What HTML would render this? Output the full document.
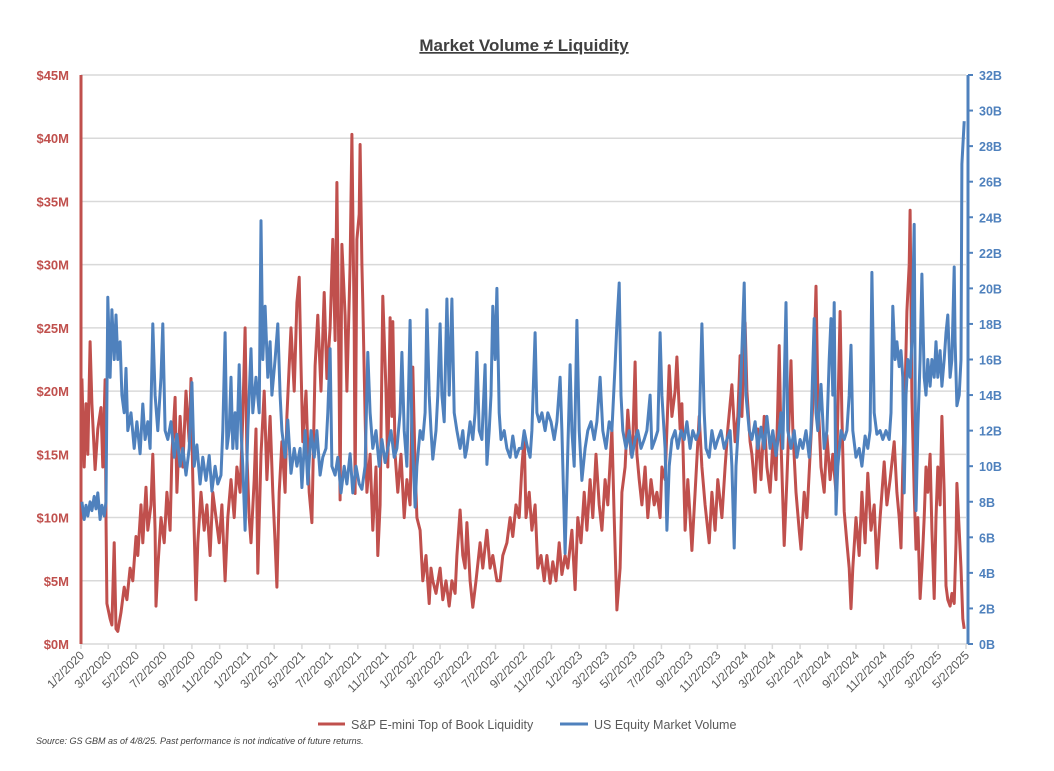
<!DOCTYPE html>
<html><head><meta charset="utf-8"><style>
html,body{margin:0;padding:0;background:#fff;}
svg{display:block;font-family:"Liberation Sans",sans-serif;}
</style></head><body>
<svg id="chart" width="1054" height="771" viewBox="0 0 1054 771" xmlns="http://www.w3.org/2000/svg">
<text x="524" y="51" text-anchor="middle" font-size="17" font-weight="bold" fill="#404040" text-decoration="underline">Market Volume ≠ Liquidity</text>
<g id="grid"></g>
<g id="xaxis"></g>
<g id="yleft"></g>
<g id="yright"></g>
<g id="series"></g>
<g>
<line x1="318" y1="724" x2="345" y2="724" stroke="#c0504d" stroke-width="3"/>
<text x="351" y="729" font-size="12.5" fill="#595959">S&amp;P E-mini Top of Book Liquidity</text>
<line x1="560" y1="724" x2="588" y2="724" stroke="#4f81bd" stroke-width="3"/>
<text x="594" y="729" font-size="12.5" fill="#595959">US Equity Market Volume</text>
</g>
<text x="36" y="744" font-size="9" font-style="italic" fill="#404040">Source: GS GBM as of 4/8/25. Past performance is not indicative of future returns.</text>
</svg>
<script>
const leftTicks = [0,5,10,15,20,25,30,35,40,45];
const rightTicks = [0,2,4,6,8,10,12,14,16,18,20,22,24,26,28,30,32];
const tickMonthsSpan = 32;
const redDays = [2,7,11,15,20,24,31,37,44,48,53,55,57,64,68,73,77,81,88,95,101,108,114,121,125,132,136,143,147,154,158,163,165,169,176,183,189,196,200,207,211,218,224,231,238,242,246,253,257,264,271,277,284,290,297,304,310,317,323,330,337,343,350,356,361,365,370,374,381,385,389,396,403,409,416,422,427,431,436,442,449,453,458,462,469,475,480,484,488,495,502,508,515,521,528,535,541,548,554,559,563,568,570,574,581,585,592,596,601,603,607,612,614,618,620,625,629,636,642,649,653,658,664,671,675,680,684,686,691,697,704,711,717,724,730,735,739,746,752,759,766,770,774,781,790,796,803,810,816,823,827,834,840,845,849,856,862,869,878,884,893,900,906,915,922,928,937,944,950,957,964,970,975,979,986,992,999,1005,1012,1019,1025,1032,1038,1045,1052,1058,1065,1071,1080,1087,1093,1100,1107,1113,1120,1126,1133,1140,1146,1153,1159,1168,1173,1179,1186,1190,1197,1203,1210,1214,1219,1223,1228,1234,1241,1247,1254,1261,1267,1274,1278,1285,1294,1300,1307,1311,1318,1322,1329,1335,1340,1344,1351,1360,1366,1373,1382,1388,1395,1401,1410,1417,1423,1432,1439,1445,1450,1454,1461,1465,1472,1476,1483,1489,1496,1503,1509,1516,1522,1529,1536,1540,1547,1553,1558,1562,1566,1573,1580,1584,1591,1597,1604,1610,1617,1621,1628,1635,1641,1648,1654,1661,1665,1670,1674,1679,1685,1690,1694,1698,1705,1712,1718,1725,1731,1738,1745,1751,1758,1767,1773,1780,1789,1795,1800,1804,1808,1813,1817,1822,1824,1828,1833,1837,1841,1846,1850,1855,1859,1863,1868,1872,1877,1881,1885,1890,1894,1899,1903,1907,1912,1916,1921,1925,1927,1932,1936,1940,1943];
const redVals = [21,14,19,15,23.9,19,13.8,17,18.7,14,20.9,10,3.2,2,1.5,8,1.2,1,2.5,4.5,3.5,6,5,8.5,7,11,8,12.4,9,11,15,9,3,6,10,8,12,9,15,19.5,12,18,14,20,16,21,13,3.5,8,12,9,11,7,12,10,8,11,5,10,13,10,14,12,18,25,15,10,8,13,17,5.6,15,20,13,18,12,8,4.5,12,16,12,18,22,25,20,27,29,22,16,20,12,9.6,22,26,20,27.8,21,25,32,24,36.5,20,11.4,31.6,26,20,30,40.3,25,11.9,32,34,39.5,30,27,18,12,15,9,14,7,11,27.5,20,14,25.8,18,25.5,15,12,15,10,13,11,21.9,14,10,9,5,7,3.2,6,5,4,6,3.5,5,3,5,4,7,10.6,7,6,9.6,5,2.9,5,8,6,9,6,7,5,5,7,8,10,8.5,11,10,14,16.4,10,12,9,11,6,7,5,7,4.8,6.5,5,8,5.5,7,6,9,4.3,10,8,12,9,13,10,15,11,9,13,11,17,10,2.7,6,12,14,18.5,15,16,22.3,15,13,11,14,10,13,11,12,10,14,13,22,18,20,22.7,17,19,9,13,10,7.4,12,18,14,11,8,12,9,13,10,14,17,20.5,16,18,22.8,18,25.4,20,16,15,12,17,13,18,14,12,16,13,23.6,16,7.8,13,18,22.4,17,12,9,7.5,12,10,15,19,28.3,20,14,12,16.5,13,15,12,18,26.3,18,10.5,8,6,2.8,6,10,7,12,8,13.5,9,11,6,10,14.4,11,13,16,12,10,7.6,14,20,26.3,30,34.3,19.5,12,7.5,10,3.6,6,10,14,12,15,9,3.6,10,14,11,18,12,4.6,3.5,3,4,3.2,8,12.7,9,6,2,1.2];
const blueDays = [2,7,11,15,20,24,29,33,37,42,46,51,55,59,64,68,73,77,81,86,90,95,99,103,110,117,123,130,136,141,147,152,158,163,169,176,180,185,191,198,205,211,218,224,231,238,244,249,255,262,268,275,282,288,295,301,308,312,317,321,326,330,334,339,343,348,352,356,361,367,374,378,385,392,396,400,405,411,416,420,427,433,438,442,449,455,462,469,475,482,486,493,499,506,513,519,526,532,539,543,548,552,559,565,572,579,585,592,598,605,612,618,625,631,636,642,649,656,662,669,675,682,689,695,702,706,711,717,724,728,735,739,746,752,757,761,766,770,774,781,785,790,794,799,805,810,816,821,827,834,840,845,849,856,862,867,871,876,882,889,893,898,902,906,911,915,920,924,931,937,944,950,957,964,970,975,981,988,992,999,1003,1008,1014,1021,1027,1034,1041,1047,1054,1058,1065,1069,1076,1080,1085,1091,1096,1102,1109,1115,1122,1129,1135,1142,1148,1155,1162,1168,1175,1179,1184,1188,1192,1199,1206,1212,1219,1225,1232,1239,1245,1252,1256,1263,1269,1274,1278,1285,1289,1294,1300,1307,1313,1320,1327,1333,1340,1346,1353,1360,1366,1371,1375,1382,1388,1395,1401,1408,1415,1421,1428,1432,1437,1441,1448,1452,1459,1463,1470,1476,1483,1489,1496,1503,1509,1516,1522,1529,1536,1540,1544,1551,1555,1562,1569,1575,1582,1588,1595,1602,1606,1613,1617,1621,1628,1635,1641,1646,1650,1654,1657,1661,1665,1672,1679,1685,1690,1694,1698,1705,1712,1718,1725,1731,1736,1740,1745,1751,1758,1764,1771,1778,1782,1786,1791,1795,1800,1804,1808,1811,1815,1819,1824,1828,1833,1835,1837,1841,1846,1850,1855,1859,1863,1868,1872,1877,1881,1885,1890,1894,1899,1903,1907,1912,1916,1921,1923,1927,1932,1936,1938,1943];
const blueVals = [8,7,7.8,7.2,8,7.5,8.3,7.6,8.5,7,7.8,7.2,8,19.5,15,18.8,16,18.5,16,17,14,13,15.5,12,13,11,12.5,10.7,13.5,11.5,12.5,11,18,14,12,15,18,12,11.5,12.5,10.5,11.8,10,11,9.5,11,14.7,10,11.2,9,10.5,9.2,10.6,8.6,10,9,9.5,12,17.5,11,12,15,11,13,11,15.7,12,10,6.4,12,16.6,13,15,13,23.8,16,19,15,17,14,16,18,14,12,10.5,12.6,9.6,11,10,11,8.8,12,9,12,10.5,12,9.5,10.5,11,13,16.6,10,9.5,10.5,8.5,10,9,10.7,8.5,10,9,8.7,10,16.4,13,11,12,10,11.5,10.2,11,12,10.5,11,13,16.4,12,10,18.2,12,7.7,10,12,11.5,13,18.8,14,12,10.4,12,14,18,14,12.5,19.4,14,19.4,13,12,11,12,10.5,11,12.5,11.5,13,16.4,12,11.5,15.7,10.1,12,14,19,16,20,13,11.5,12,11,10.5,11.7,10.5,11,11,12,11.2,10.5,12,17.5,13,12.5,13,12,13,12.5,11.5,12.5,15,12,5.1,9,15.7,12,10,18.2,12,9.2,11,12,12.5,11.5,12.5,15,12,11,12.5,12,15.7,18,20.3,14,12,11,12,10.5,11.5,12,11,11.5,12,14,11,11.5,12,17.5,14,11,6.4,10,11.5,12,11,12,11.5,12.5,11,12,11.5,12,18,13,11,10.5,12,11,11.5,12,11,11.5,12,10,5.4,10,13,15,20.3,14,12,11.5,12.5,11,12.2,11,12.8,11,12,10.6,12,13,11,19.2,12,11,12,10.5,11.5,11,12,10.5,12,18.3,13,12,14.6,11,12,16,18.3,14,19.2,7.3,10,12,11.5,12,14,16.8,12,10.5,11,10,11.7,11,12,20.9,13,11.8,12,11.5,12,11.5,13,19,16,17,15.6,16.5,15,8.5,14,16,15,17,23.6,15,7.5,12,16,20.8,15,14,16,14.5,16,15,17,15,16.5,14.5,16,17.5,18.5,15,16,21.2,17,13.4,14,16,27,29.4];

const NS='http://www.w3.org/2000/svg';
const X0=81, X1=966, YT=75, YB=644, TOTAL_DAYS=1947;
const xS = d => X0 + d/TOTAL_DAYS*(X1-X0);
const yL = v => YB - v/45*(YB-YT);
const yR = v => YB - v/32*(YB-YT);
function mk(tag, attrs, parent){const e=document.createElementNS(NS,tag);for(const k in attrs)e.setAttribute(k,attrs[k]);parent.appendChild(e);return e;}
const grid=document.getElementById('grid'), xa=document.getElementById('xaxis'), yl=document.getElementById('yleft'), yr=document.getElementById('yright'), ser=document.getElementById('series');

leftTicks.forEach(v=>{
  if(v>0){const g=mk('line',{x1:X0,x2:X1,y1:yL(v),y2:yL(v),stroke:'#d9d9d9','stroke-width':1.5},grid);
  
  }
  const t=mk('text',{x:69,y:yL(v)+5,'text-anchor':'end','font-size':13,'font-weight':'bold',fill:'#c0504d'},yl);
  
  
  t.textContent='$'+v+'M';
});
const la=mk('line',{x1:X0,x2:X0,y1:YT,y2:YB,stroke:'#c0504d','stroke-width':3},yl);



rightTicks.forEach(v=>{
  const tk=mk('line',{x1:968,x2:973,y1:yR(v),y2:yR(v),stroke:'#4f81bd','stroke-width':2},yr);
  
  
  const t=mk('text',{x:979,y:yR(v)+5,'font-size':12.5,'font-weight':'bold',fill:'#4f81bd'},yr);
  
  
  t.textContent=v+'B';
});
const ra=mk('line',{x1:968,x2:968,y1:YT,y2:YB,stroke:'#4f81bd','stroke-width':3},yr);



const base=mk('line',{x1:X0,x2:968,y1:YB,y2:YB,stroke:'#d9d9d9','stroke-width':1.5},xa);


const start=Date.UTC(2020,0,2);
for(let i=0;i<=tickMonthsSpan;i+=1){
  const m=i*2, yr_=2020+Math.floor(m/12), mo=m%12;
  const d=(Date.UTC(yr_,mo,2)-start)/86400000;
  const x=xS(d);
  const tm=mk('line',{x1:x,x2:x,y1:YB,y2:YB+5,stroke:'#d9d9d9','stroke-width':1.5},xa);
  
  
  const t=mk('text',{x:x+4,y:YB+12,'text-anchor':'end','font-size':12,fill:'#595959',transform:`rotate(-45 ${x+4} ${YB+12})`},xa);
  
  
  t.textContent=(mo+1)+'/2/'+yr_;
}

function path(days, vals, ys){return days.map((d,i)=>(i?'L':'M')+xS(d).toFixed(1)+' '+ys(vals[i]).toFixed(1)).join(' ');}
const pr=mk('path',{d:path(redDays,redVals,yL),fill:'none',stroke:'#c0504d','stroke-width':3,'stroke-linejoin':'round'},ser);


const pb=mk('path',{d:path(blueDays,blueVals,yR),fill:'none',stroke:'#4f81bd','stroke-width':3,'stroke-linejoin':'round'},ser);


</script>
</body></html>
